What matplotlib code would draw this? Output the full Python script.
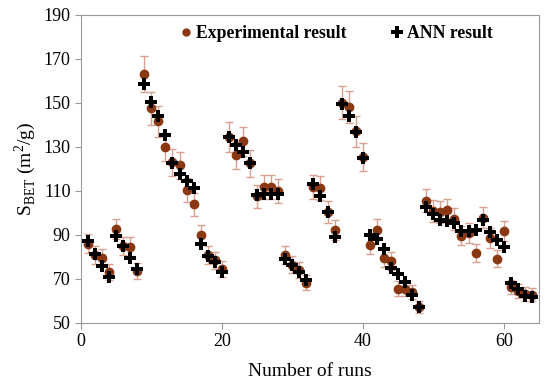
import matplotlib
matplotlib.use("Agg")
import matplotlib.pyplot as plt
from matplotlib.lines import Line2D
import numpy as np

runs = list(range(1, 65))
experimental = [86, 81, 79.5, 73, 92.7, 85, 84.7, 73.6,
                163, 147.5, 141.6, 130, 123, 121.6, 110.3, 104,
                90, 81, 78.5, 74.5, 134.5, 126.1, 132.5, 122.5,
                107.5, 111.8, 111.8, 110, 80.7, 76.5, 74, 68.2,
                111.8, 111.2, 100.5, 92.3, 150, 148.2, 137, 125.5,
                85.6, 92.4, 79.6, 78.1, 65.6, 65.6, 64.1, 57.2,
                105.5, 101, 100.2, 101.2, 97.2, 89.7, 91, 81.9,
                97.9, 88.7, 79.2, 91.6, 66.4, 64.5, 63, 62.9]
ann = [87.1, 81.1, 75.8, 70.9, 89.6, 84.9, 79.5, 74.5,
       158.5, 150.6, 143.9, 135.6, 122.8, 117.8, 114.5, 111.2,
       86, 80.2, 77.5, 73, 134.3, 131, 127.7, 122.8,
       108.2, 108.8, 108.8, 108.8, 79.2, 76.2, 73.1, 69.7,
       113, 107.7, 100.5, 88.9, 149.6, 143.8, 136.6, 125,
       90.1, 88.2, 83.4, 75.1, 72.1, 68.6, 62.6, 57.4,
       102.5, 99.5, 96.8, 96.5, 95.2, 91.6, 91.9, 92.2,
       96.8, 91.2, 87.7, 84.4, 68.2, 65.2, 62.2, 61.9]

# Excel style 5 % error bars on the experimental values
exp_err = [0.05 * v for v in experimental]

plt.rcParams['font.family'] = ['Liberation Serif', 'DejaVu Serif']
plt.rcParams['mathtext.fontset'] = 'custom'
plt.rcParams['mathtext.rm'] = 'Liberation Serif'

fig = plt.figure(figsize=(5.5, 3.9), dpi=100)
ax = fig.add_axes([0.147, 0.172, 0.833, 0.79])

ax.errorbar(runs, experimental, yerr=exp_err, fmt='o', color='#8a3812',
            ecolor='#d9a090', elinewidth=1, capsize=3, capthick=1,
            markersize=6, zorder=2)
ax.plot(runs, ann, 'P', color='black', markersize=9, markeredgewidth=0,
        zorder=3)

ax.set_xlim(0, 65)
ax.set_ylim(50, 190)
ax.set_xticks([0, 20, 40, 60])
ax.set_yticks(np.arange(50, 191, 20))
ax.tick_params(labelsize=13, direction='out', length=4, color='#999999')
for sp in ax.spines.values():
    sp.set_color('#999999')

ax.set_xlabel('Number of runs', fontsize=14, labelpad=9)
ax.set_ylabel(r'S$_{\mathregular{BET}}$ (m$^{\mathregular{2}}$/g)', fontsize=14)

handles = [Line2D([], [], marker='o', linestyle='none', color='#8a3812', markersize=5),
           Line2D([], [], marker='P', linestyle='none', color='black',
                  markersize=8, markeredgewidth=0)]
ax.legend(handles, ['Experimental result', 'ANN result'], loc='upper center',
          bbox_to_anchor=(0.555, 1.018), ncol=2, frameon=False,
          prop={'weight': 'bold', 'size': 12.7}, handletextpad=0.05,
          handlelength=1.0, columnspacing=2.4)

fig.savefig('out.png', dpi=100)
